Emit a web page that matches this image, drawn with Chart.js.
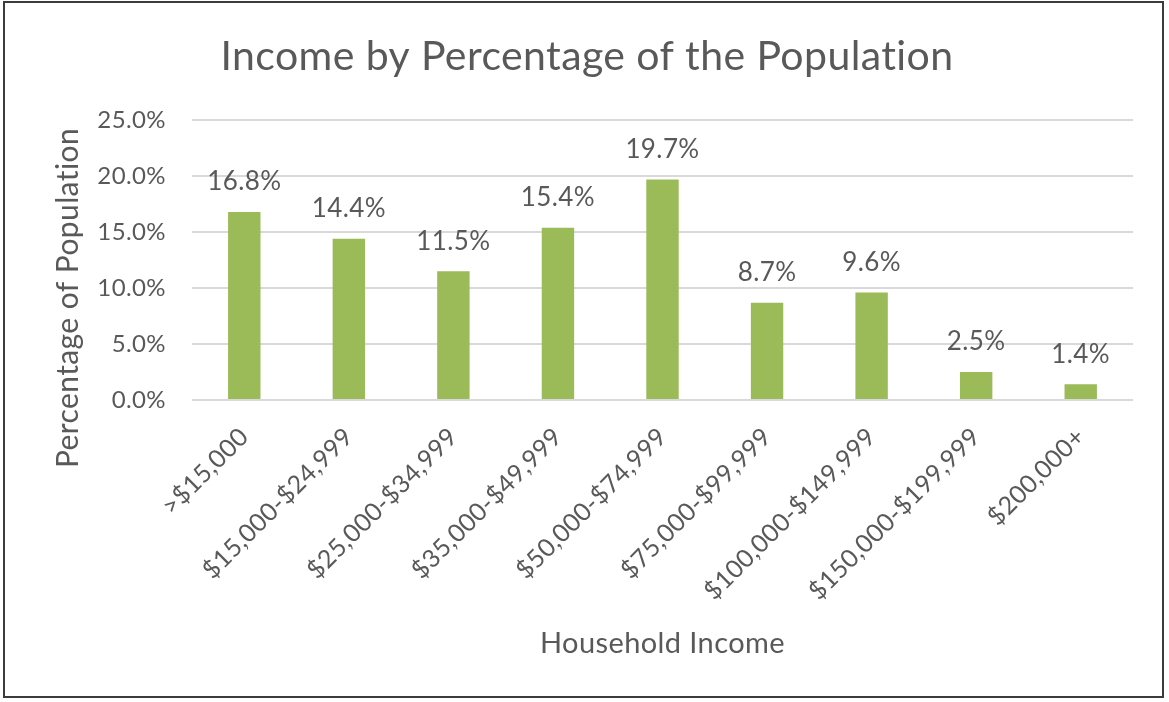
<!DOCTYPE html>
<html>
<head>
<meta charset="utf-8">
<script src="https://cdn.jsdelivr.net/npm/chart.js@4.4.0/dist/chart.umd.min.js"></script>
<style>
  html, body { margin: 0; padding: 0; background: #fff; }
  #frame {
    position: absolute; left: 3px; top: 1px;
    width: 1161px; height: 697px;
    border: 2px solid #3c3c3c; box-sizing: border-box;
  }
  #wrap { position: absolute; left: 0; top: 0; width: 1169px; height: 702px; }
</style>
</head>
<body>
<div id="wrap"><canvas id="chart" width="1169" height="702"></canvas></div>
<div id="frame"></div>
<script>
const categories = ['>$15,000', '$15,000-$24,999', '$25,000-$34,999', '$35,000-$49,999',
  '$50,000-$74,999', '$75,000-$99,999', '$100,000-$149,999', '$150,000-$199,999', '$200,000+'];
const percentages = [16.8, 14.4, 11.5, 15.4, 19.7, 8.7, 9.6, 2.5, 1.4];
const yTicks = [0, 5, 10, 15, 20, 25];

const textColor = '#595959';
const fontFamily = 'Lato, "Open Sans", sans-serif';

// small letter spacing keeps Lato from joining "ti" like a ligature
const spacing = {
  id: 'spacing',
  beforeDraw(chart) { chart.ctx.letterSpacing = '0.4px'; }
};

// draws the value above each bar, like Excel's data labels,
// and the y axis title, which Excel sits a bit lower than the axis middle
const valueLabels = {
  id: 'valueLabels',
  afterDatasetsDraw(chart) {
    const ctx = chart.ctx;
    const meta = chart.getDatasetMeta(0);
    ctx.save();
    ctx.font = '26px ' + fontFamily;
    ctx.fillStyle = textColor;
    ctx.textAlign = 'center';
    ctx.textBaseline = 'middle';
    meta.data.forEach((bar, i) => {
      ctx.fillText(percentages[i].toFixed(1) + '%', bar.x, bar.y - 30);
    });
    ctx.translate(68, 298);
    ctx.rotate(-Math.PI / 2);
    ctx.font = '30px ' + fontFamily;
    ctx.fillText('Percentage of Population', 0, 0);
    ctx.restore();
  }
};

new Chart(document.getElementById('chart'), {
  type: 'bar',
  data: {
    labels: categories,
    datasets: [{
      data: percentages,
      backgroundColor: '#9BBB59',
      barPercentage: 0.31,
      categoryPercentage: 1.0
    }]
  },
  options: {
    responsive: false,
    animation: false,
    layout: { padding: { left: 41, right: 36, top: 0, bottom: 0 } },
    plugins: {
      legend: { display: false },
      tooltip: { enabled: false },
      title: {
        display: true,
        text: 'Income by Percentage of the Population',
        color: textColor,
        font: { family: fontFamily, size: 41, weight: 'normal' },
        padding: { top: 32, bottom: 39 }
      }
    },
    scales: {
      x: {
        afterFit(scale) { scale.height = 302; },
        grid: { display: false },
        border: { display: false },
        ticks: {
          color: textColor,
          font: { family: fontFamily, size: 25 },
          maxRotation: 45, minRotation: 45,
          padding: 14
        },
        title: {
          display: true,
          text: 'Household Income',
          color: textColor,
          font: { family: fontFamily, size: 29 },
          padding: { top: 0, bottom: 41 }
        }
      },
      y: {
        min: 0, max: 25,
        afterFit(scale) { scale.width = 151; },
        afterBuildTicks(axis) { axis.ticks = yTicks.map(v => ({ value: v })); },
        grid: { color: '#d9d9d9', lineWidth: 2, drawTicks: false },
        border: { display: false },
        ticks: {
          color: textColor,
          font: { family: fontFamily, size: 24 },
          padding: 26,
          callback: v => v.toFixed(1) + '%'
        }
      }
    }
  },
  plugins: [spacing, valueLabels]
});
</script>
</body>
</html>
